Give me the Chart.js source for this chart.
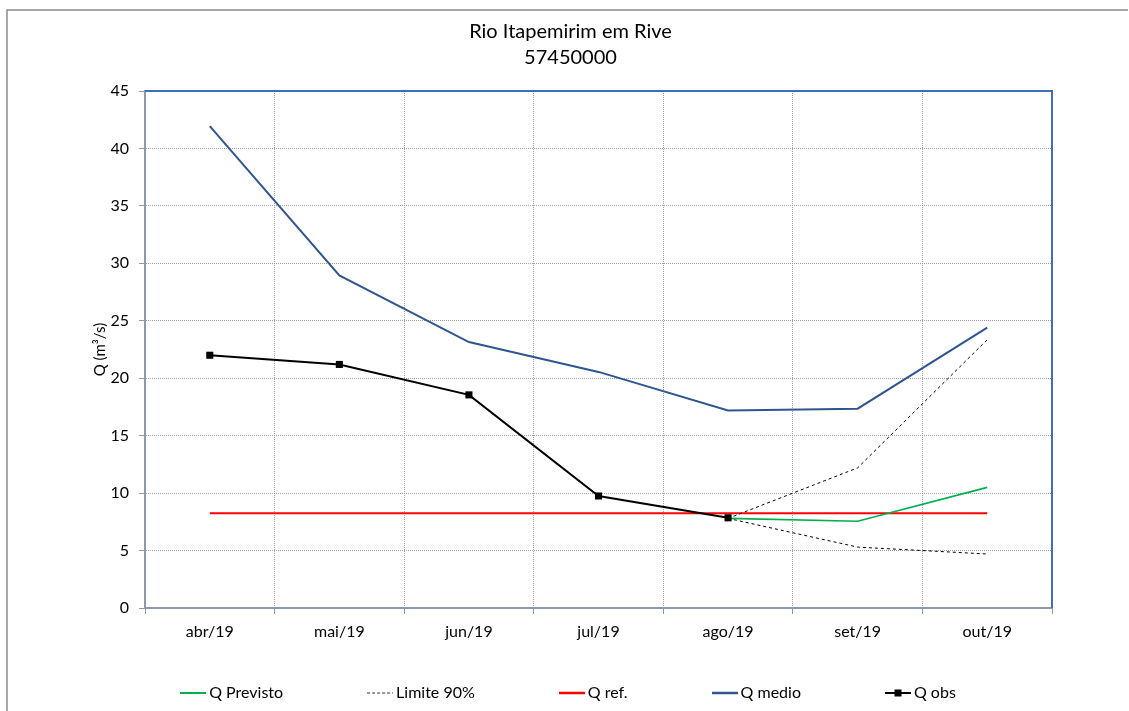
<!DOCTYPE html>
<html>
<head>
<meta charset="utf-8">
<title>Rio Itapemirim em Rive</title>
<script src="https://cdn.jsdelivr.net/npm/chart.js@4/dist/chart.umd.min.js"></script>
<style>
  html, body { margin: 0; padding: 0; background: #fff; }
  #wrap { position: relative; width: 1129px; height: 711px; }
</style>
</head>
<body>
<div id="wrap"><canvas id="chart" width="1129" height="711"></canvas></div>
<script>
// Months on the x axis
const months = ['abr/19', 'mai/19', 'jun/19', 'jul/19', 'ago/19', 'set/19', 'out/19'];

// Flow series (m³/s)
const qPrevisto = [null, null, null, null, 7.8, 7.55, 10.5];
const limiteSup = [null, null, null, null, 7.8, 12.2, 23.35];
const limiteInf = [null, null, null, null, 7.8, 5.3, 4.7];
const qRef      = [8.25, 8.25, 8.25, 8.25, 8.25, 8.25, 8.25];
const qMedio    = [41.95, 28.95, 23.15, 20.55, 17.2, 17.35, 24.4];
const qObs      = [22.0, 21.2, 18.55, 9.75, 7.85, null, null];

// Y axis ticks
const yMin = 0, yMax = 45, yStep = 5;

const FONT = 'Lato, "Open Sans", "Liberation Sans", sans-serif';

// Legend swatches: a 26px line sample, optionally dashed or with a square marker
function swatch(color, width, dash, marker) {
  const c = document.createElement('canvas');
  c.width = 26; c.height = 10;
  const g = c.getContext('2d');
  g.strokeStyle = color;
  g.lineWidth = width;
  g.setLineDash(dash || []);
  g.beginPath();
  g.moveTo(0, 5); g.lineTo(26, 5);
  g.stroke();
  if (marker) {
    g.fillStyle = color;
    g.fillRect(9.5, 1.5, 7, 7);
  }
  return c;
}

// Outer frame and the blue top/right edges of the plot area
const framePlugin = {
  id: 'frame',
  afterLayout(chart) {
    // keep the legend row a fixed distance under the x axis labels
    const lg = chart.legend;
    lg.top = chart.scales.x.bottom + 43 - lg.options.labels.padding;
    lg.bottom = chart.height;
    lg.height = lg.bottom - lg.top;
  },
  afterDraw(chart) {
    const ctx = chart.ctx;
    const a = chart.chartArea;
    ctx.save();
    ctx.strokeStyle = '#8a8a8a';
    ctx.lineWidth = 1.5;
    ctx.beginPath();
    ctx.moveTo(7, chart.height); ctx.lineTo(7, 10); ctx.lineTo(chart.width - 1, 10);
    ctx.stroke();
    ctx.strokeStyle = '#3f6fb5';
    ctx.lineWidth = 2;
    ctx.beginPath();
    ctx.moveTo(a.left, a.top); ctx.lineTo(a.right, a.top); ctx.lineTo(a.right, a.bottom);
    ctx.stroke();
    ctx.restore();
  }
};

const base = { tension: 0, spanGaps: false, pointRadius: 0, pointHoverRadius: 0, fill: false };

const datasets = [
  Object.assign({}, base, {
    label: 'Q Previsto', data: qPrevisto, borderColor: '#00b050', borderWidth: 1.6,
    order: 2, legendSwatch: swatch('#00b050', 2)
  }),
  Object.assign({}, base, {
    label: 'Limite 90%', data: limiteSup, borderColor: '#000000', borderWidth: 1,
    borderDash: [3, 3], order: 3, legendSwatch: swatch('#333333', 1, [3, 2])
  }),
  Object.assign({}, base, {
    label: 'Limite 90%', data: limiteInf, borderColor: '#000000', borderWidth: 1,
    borderDash: [3, 3], order: 4, hideInLegend: true
  }),
  Object.assign({}, base, {
    label: 'Q ref.', data: qRef, borderColor: '#ff0000', borderWidth: 2,
    order: 5, legendSwatch: swatch('#ff0000', 2.5)
  }),
  Object.assign({}, base, {
    label: 'Q medio', data: qMedio, borderColor: '#2f5690', borderWidth: 2,
    order: 6, legendSwatch: swatch('#2f5690', 2.5)
  }),
  Object.assign({}, base, {
    label: 'Q obs', data: qObs, borderColor: '#000000', borderWidth: 2,
    pointStyle: 'rect', pointRadius: 5, pointBackgroundColor: '#000000',
    pointBorderColor: '#000000', pointBorderWidth: 0,
    order: 1, legendSwatch: swatch('#000000', 2, null, true)
  })
];

new Chart(document.getElementById('chart'), {
  type: 'line',
  data: { labels: months, datasets: datasets },
  plugins: [framePlugin],
  options: {
    responsive: false,
    animation: false,
    events: [],
    layout: { padding: { left: 12, right: 0, top: 0, bottom: 0 } },
    plugins: {
      tooltip: { enabled: false },
      title: {
        display: true,
        text: ['Rio Itapemirim em Rive', '57450000'],
        color: '#000',
        font: { family: FONT, size: 20, weight: 'normal', lineHeight: 26 / 20 },
        padding: { top: 19, bottom: 20 }
      },
      legend: {
        position: 'bottom',
        maxHeight: 69,
        labels: {
          usePointStyle: true,
          pointStyleWidth: 16,
          padding: 89,
          color: '#000',
          font: { family: FONT, size: 16 },
          generateLabels(chart) {
            return chart.data.datasets.map((ds, i) => ({
              text: ds.label,
              datasetIndex: i,
              pointStyle: ds.legendSwatch,
              fillStyle: ds.borderColor,
              strokeStyle: ds.borderColor,
              lineWidth: 0,
              hidden: false,
              fontColor: '#000',
              skip: !!ds.hideInLegend
            }));
          },
          filter: (item) => !item.skip,
          sort: (a, b) => a.datasetIndex - b.datasetIndex
        }
      }
    },
    scales: {
      x: {
        type: 'category',
        offset: true,
        afterFit(scale) { scale.height = 34; },
        grid: {
          offset: true,
          color: '#a0a0a0',
          lineWidth: 1,
          tickLength: 6,
          tickColor: '#8c99aa',
          tickBorderDash: [],
          drawTicks: true
        },
        border: { color: '#8c99aa', width: 2, dash: [1, 1] },
        ticks: {
          color: '#000',
          font: { family: FONT, size: 16 },
          padding: 8,
          maxRotation: 0,
          autoSkip: false
        }
      },
      y: {
        min: yMin,
        max: yMax,
        afterFit(scale) { scale.width = 133; },
        grid: {
          color: '#a0a0a0',
          lineWidth: 1,
          tickLength: 6,
          tickColor: '#8c99aa',
          tickBorderDash: []
        },
        border: { color: '#8c99aa', width: 2, dash: [1, 1] },
        ticks: {
          stepSize: yStep,
          color: '#000',
          font: { family: FONT, size: 16 },
          padding: 10
        },
        title: {
          display: true,
          text: 'Q (m³/s)',
          color: '#000',
          font: { family: FONT, size: 15 },
          padding: { top: 79, bottom: 0 }
        }
      },
      yRight: {
        position: 'right',
        afterFit(scale) { scale.width = 77; },
        grid: { display: false },
        ticks: { display: false },
        border: { display: false }
      }
    }
  }
});
</script>
</body>
</html>
